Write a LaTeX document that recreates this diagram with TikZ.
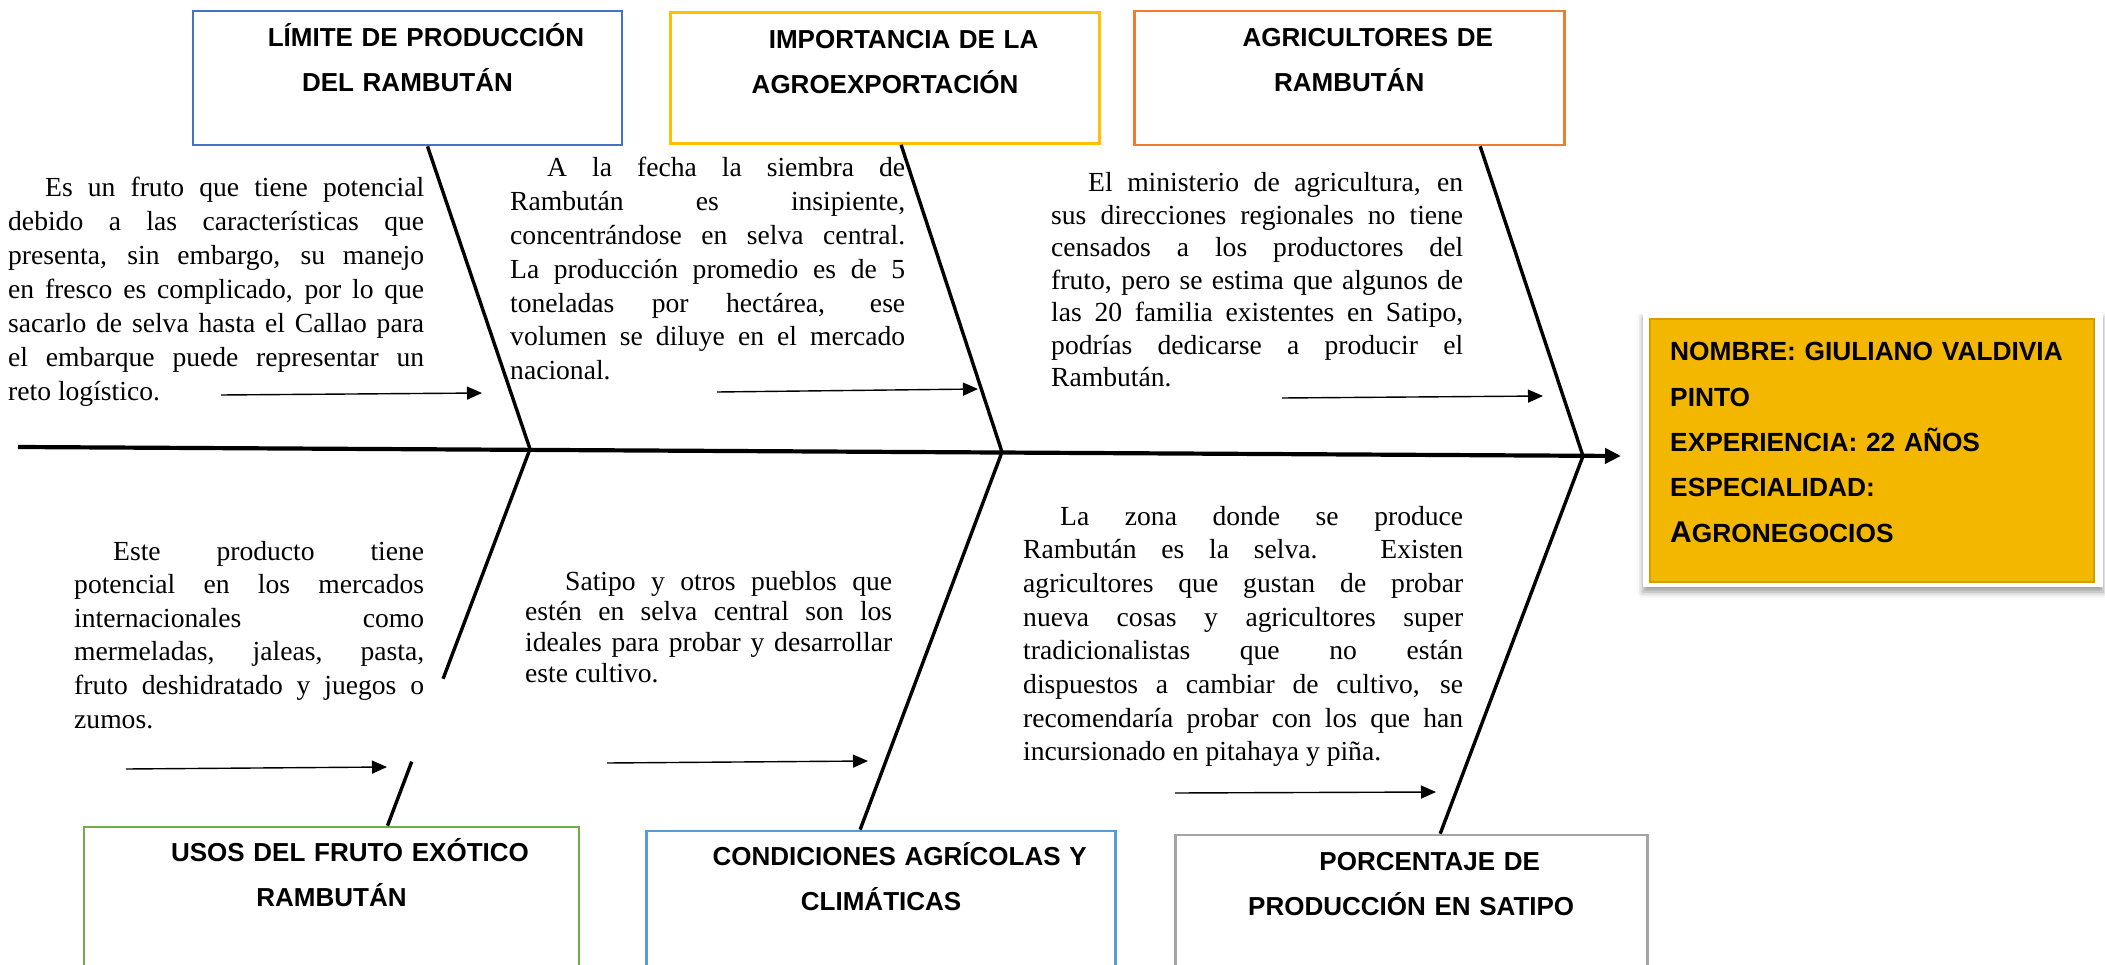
\documentclass[tikz,border=0pt]{standalone}
\usepackage{fontspec}
\setmainfont{Liberation Serif}[WordSpace={1,1,1.6}]
\setsansfont{Liberation Sans}
\usetikzlibrary{arrows.meta, positioning, calc, shadows.blur}
\definecolor{limblue}{HTML}{4472C4}
\definecolor{impyellow}{HTML}{FFC000}
\definecolor{agrorange}{HTML}{ED7D31}
\definecolor{usogreen}{HTML}{70AD47}
\definecolor{conblue}{HTML}{5B9BD5}
\definecolor{porgray}{HTML}{A5A5A5}
\definecolor{cvgold}{HTML}{F4B700}
\definecolor{cvedge}{HTML}{D29E00}
\tolerance=10000
\hyphenpenalty=10000
\tikzset{
  causebox/.style={
    rectangle, draw=#1, line width=2.6pt, fill=white,
    minimum width=429pt, minimum height=134pt, inner sep=0pt
  },
  causetext/.style={
    anchor=base, align=center, inner sep=0pt, text width=470pt,
    font=\sffamily\bfseries\fontsize{26}{45}\selectfont
  },
  notetext/.style={
    anchor=base west, inner sep=0pt, text width=#1, align=justify,
    font=\fontsize{27.6}{34}\selectfont
  },
  bone/.style={line width=3.4pt},
  spine/.style={line width=4.2pt, -{Triangle[length=16pt,width=15pt]}},
  notearrow/.style={line width=1.4pt, -{Triangle[length=15pt,width=13pt]}},
}
\begin{document}
\begin{tikzpicture}[x=1pt,y=-1pt]
  \useasboundingbox (0,0) rectangle (2105,965);
  % upper causes
  \node[causebox=limblue] (lim) at (407.5,78) {};
  \node[causebox=impyellow,minimum height=131pt,right=46pt of lim] (imp) {};
  \node[causebox=agrorange,minimum width=430pt,right=32pt of imp] (agr) {};
  \node[causetext] (limtxt) at ([yshift=-37pt]lim.north) {\hspace*{37pt}LÍMITE DE PRODUCCIÓN\\DEL RAMBUTÁN};
  \node[causetext] (imptxt) at ([yshift=-37pt]imp.north) {\hspace*{37pt}IMPORTANCIA DE LA\\AGROEXPORTACIÓN};
  \node[causetext] (agrtxt) at ([yshift=-37pt]agr.north) {\hspace*{37pt}AGRICULTORES DE\\RAMBUTÁN};
  % lower causes
  \node[causebox=usogreen,minimum width=495pt,minimum height=200pt] (uso) at (331.5,927) {};
  \node[causebox=conblue,minimum width=469pt,minimum height=200pt,
        right=65pt of uso,yshift=-4pt] (con) {};
  \node[causebox=porgray,minimum width=472pt,minimum height=200pt,
        right=57pt of con,yshift=-4pt] (por) {};
  \node[causetext] (usotxt) at ([yshift=-36pt]uso.north) {\hspace*{37pt}USOS DEL FRUTO EXÓTICO\\RAMBUTÁN};
  \node[causetext] (contxt) at ([yshift=-36pt]con.north) {\hspace*{37pt}CONDICIONES AGRÍCOLAS Y\\CLIMÁTICAS};
  \node[causetext] (portxt) at ([yshift=-37pt]por.north) {\hspace*{37pt}PORCENTAJE DE\\PRODUCCIÓN EN SATIPO};
  % spine and bones
  \coordinate (tail) at (18,447);
  \coordinate (head) at (1621,456);
  \coordinate (j1) at (530,449);
  \coordinate (j2) at (1002,452);
  \coordinate (j3) at (1583,456);
  \draw[spine] (tail) -- (head);
  \coordinate (b4) at ([xshift=56pt]uso.north);
  \draw[bone] ([xshift=20pt]lim.south) -- (j1);
  \draw[bone] ([xshift=16pt]imp.south) -- (j2);
  \draw[bone] ([xshift=131pt]agr.south) -- (j3);
  \draw[bone] (j1) -- ($(j1)!0.61!(b4)$);
  \draw[bone] ($(j1)!0.83!(b4)$) -- (b4);
  \draw[bone] (j2) -- ([xshift=-21pt]con.north);
  \draw[bone] (j3) -- ([xshift=29pt]por.north);
  % notes
  \node[notetext=416pt] (limnote) at (8,197) {\hspace*{37pt}Es un fruto que tiene potencial\linebreak
    debido a las características que\linebreak presenta, sin embargo, su manejo\linebreak
    en fresco es complicado, por lo que\linebreak sacarlo de selva hasta el Callao para\linebreak
    el embarque puede representar un\linebreak reto logístico.};
  \node[notetext=395pt,font=\fontsize{27.6}{33.8}\selectfont] (impnote) at (510,177) {\hspace*{37pt}A la fecha la siembra de\linebreak
    Rambután es insipiente,\linebreak concentrándose en selva central.\linebreak
    La producción promedio es de 5\linebreak toneladas por hectárea, ese\linebreak
    volumen se diluye en el mercado\linebreak nacional.};
  \node[notetext=412pt,font=\fontsize{27.6}{32.5}\selectfont] (agrnote) at (1051,192) {\hspace*{37pt}El ministerio de agricultura, en\linebreak
    sus direcciones regionales no tiene\linebreak censados a los productores del\linebreak
    fruto, pero se estima que algunos de\linebreak las 20 familia existentes en Satipo,\linebreak
    podrías dedicarse a producir el\linebreak Rambután.};
  \node[notetext=350pt,font=\fontsize{27.6}{33.6}\selectfont] (usonote) at (74,560) {\hspace*{39pt}Este producto tiene\linebreak
    potencial en los mercados\linebreak internacionales como\linebreak
    mermeladas, jaleas, pasta,\linebreak fruto deshidratado y juegos o\linebreak zumos.};
  \node[notetext=367pt,font=\fontsize{27.6}{30.7}\selectfont] (connote) at (525,590) {\hspace*{40pt}Satipo y otros pueblos que\linebreak
    estén en selva central son los\linebreak ideales para probar y desarrollar\linebreak este cultivo.};
  \node[notetext=440pt,font=\fontsize{27.6}{33.7}\selectfont] (pornote) at (1023,525) {\hspace*{37pt}La zona donde se produce\linebreak
    Rambután es la selva. Existen\linebreak agricultores que gustan de probar\linebreak
    nueva cosas y agricultores super\linebreak tradicionalistas que no están\linebreak
    dispuestos a cambiar de cultivo, se\linebreak recomendaría probar con los que han\linebreak
    incursionado en pitahaya y piña.};
  % note arrows
  \coordinate (s1) at (221,395); \coordinate (e1) at (482,393);
  \coordinate (s2) at (717,392); \coordinate (e2) at (978,389);
  \coordinate (s3) at (1282,398); \coordinate (e3) at (1543,396);
  \coordinate (s4) at (126,769); \coordinate (e4) at (387,767);
  \coordinate (s5) at (607,763); \coordinate (e5) at (868,761);
  \coordinate (s6) at (1175,793); \coordinate (e6) at (1436,792);
  \foreach \i in {1,...,6}
    \draw[notearrow] (s\i) -- (e\i);
  % profile card
  \node[rectangle,fill=white,minimum width=460pt,minimum height=274pt,inner sep=0pt,
        blur shadow={shadow xshift=0pt,shadow yshift=-5pt,shadow blur radius=6pt}] (card) at (1873,450) {};
  \node[rectangle,fill=cvgold,draw=cvedge,line width=1.6pt,
        minimum width=444pt,minimum height=263pt,inner sep=0pt] (cv) at (1872,450.5) {};
  \node[anchor=base west,align=left,inner sep=0pt,text width=420pt,
        font=\sffamily\bfseries\fontsize{26.3}{45.3}\selectfont] (cvtxt) at (1670,361)
        {NOMBRE: GIULIANO VALDIVIA\\PINTO\\EXPERIENCIA: 22 AÑOS\\ESPECIALIDAD:\\
         {\fontsize{30}{45.3}\selectfont A}GRONEGOCIOS};
\end{tikzpicture}
\end{document}
